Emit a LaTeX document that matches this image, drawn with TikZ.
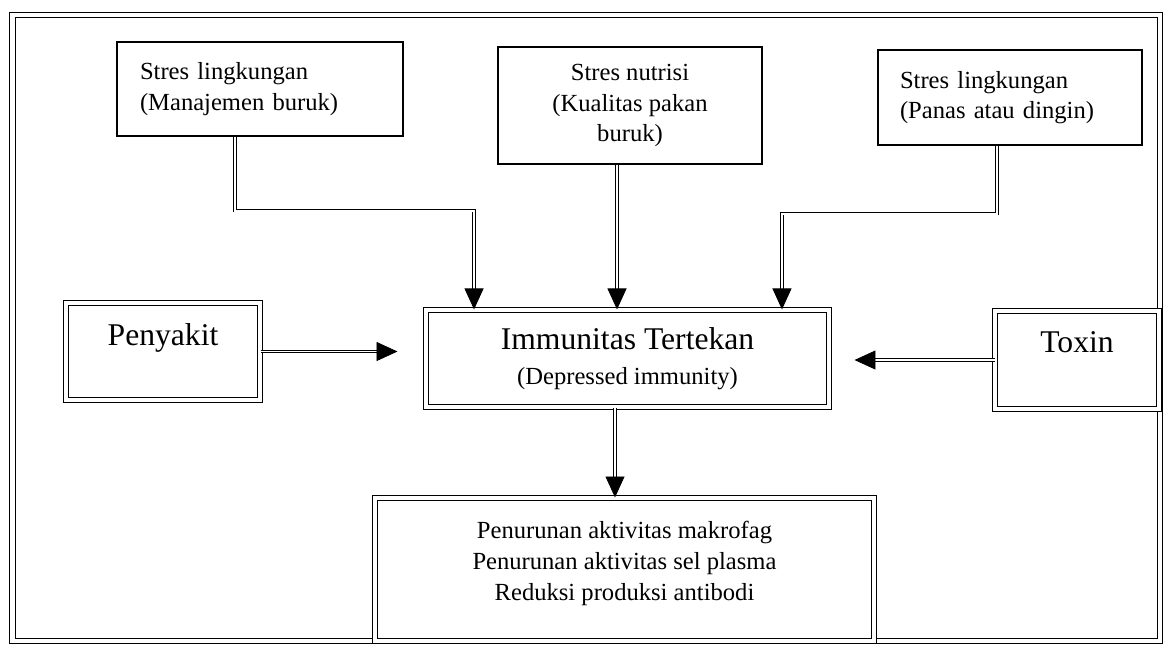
\documentclass[tikz,border=0pt]{standalone}
\usepackage{fontspec}
\setmainfont{Liberation Serif}
\usepackage{tikz}
\usetikzlibrary{arrows.meta,positioning,calc}
\newcommand{\smallfont}{\fontsize{14}{17.5}\selectfont}
\newcommand{\bigfont}{\fontsize{18}{20}\selectfont}
\tikzset{
  stresbox/.style={draw, line width=0.7pt, inner sep=4pt, font=\smallfont},
  dblbox/.style={draw, line width=0.6pt, double, double distance=2.6pt, inner sep=2pt},
  outerframe/.style={line width=0.6pt, double, double distance=2.4pt},
  arr/.style={-{Triangle[length=0.42cm,width=0.38cm]}, line width=0.5pt, double, double distance=1.1pt},
}
\begin{document}
\begin{tikzpicture}[x=0.02cm, y=-0.02cm]
  \useasboundingbox (0,0) rectangle (1165,650);
  \draw[outerframe] (12.5,15) rectangle (1160,641);

  % faktor stres
  \node[stresbox, minimum width=5.72cm, minimum height=1.88cm, text width=4.8cm, inner xsep=0.46cm, align=left] (manaj) at (260,89) {Stres lingkungan\\(Manajemen buruk)};
  \node[stresbox, minimum width=5.28cm, minimum height=2.34cm, align=center] (nutrisi) at (630,105.5) {Stres nutrisi\\(Kualitas pakan\\buruk)};
  \node[stresbox, minimum width=5.28cm, minimum height=1.9cm, text width=4.4cm, inner xsep=0.44cm, align=left] (suhu) at (1010,97.5) {Stres lingkungan\\(Panas atau dingin)};

  % baris tengah
  \node[dblbox, font=\bigfont, minimum width=3.88cm, minimum height=1.94cm, text height=0.4cm, text depth=0.66cm] (penyakit) at (163,351.5) {Penyakit};
  \node[dblbox, font=\bigfont, minimum width=8.06cm, minimum height=1.94cm, align=center] (imun) at (627.5,358.5) {Immunitas Tertekan\\{\smallfont (Depressed immunity)}};
  \node[dblbox, font=\bigfont, minimum width=3.28cm, minimum height=1.96cm, text height=0.4cm, text depth=0.72cm] (toxin) at (1077,360) {Toxin};

  % hasil
  \node[dblbox, font=\smallfont, minimum width=9.98cm, minimum height=2.86cm, align=center, text depth=0.35cm] (hasil) at (624.5,569.5) {Penurunan aktivitas makrofag\\Penurunan aktivitas sel plasma\\Reduksi produksi antibodi};

  \coordinate (n2) at ([xshift=-0.26cm]nutrisi.south);
  \coordinate (i3) at ([xshift=-0.25cm]imun.south);
  \draw[arr] ([xshift=-0.5cm]manaj.south) -- ++(0,74) -| ([xshift=-3.07cm]imun.north);
  \draw[arr] (n2) -- (n2 |- imun.north);
  \draw[arr] ([xshift=-0.26cm]suhu.south) -- ++(0,68) -| ([xshift=3.09cm]imun.north);
  \draw[arr, shorten >=0.56cm] (penyakit.east) -- (penyakit.east -| imun.west);
  \draw[arr, shorten >=0.5cm] (toxin.west) -- (toxin.west -| imun.east);
  \draw[arr] (i3) -- (i3 |- hasil.north);
\end{tikzpicture}
\end{document}
